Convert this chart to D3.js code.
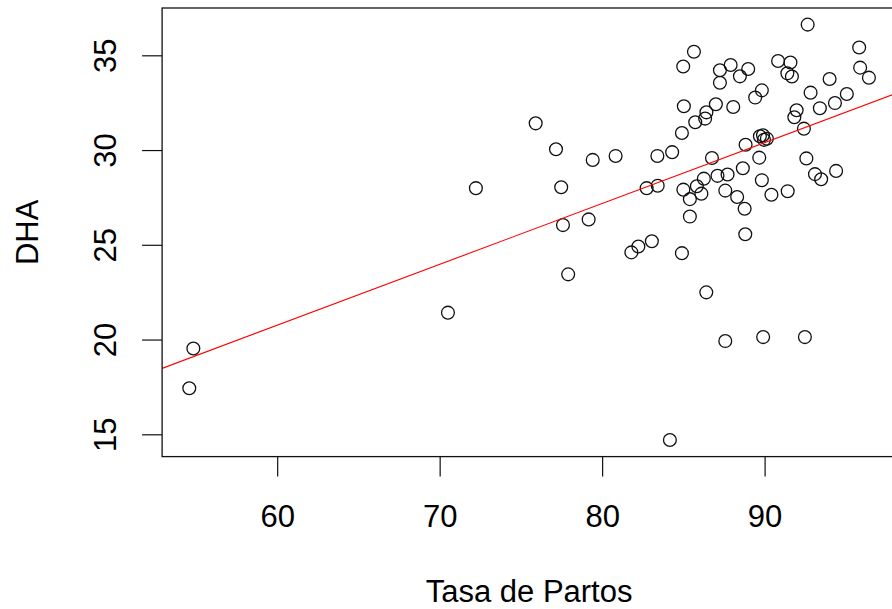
<!DOCTYPE html>
<html>
<head>
<meta charset="utf-8">
<script src="https://cdn.jsdelivr.net/npm/d3@7"></script>
<style>
  html, body { margin: 0; padding: 0; background: #fff; }
  svg { display: block; }
  text { font-family: "Liberation Sans", Arial, sans-serif; fill: #000; }
</style>
</head>
<body>
<script>
// Birth rate (x) against DHA (y), one value per observation
const tasaPartos = [
  54.59, 54.84, 70.51, 72.23, 75.91, 77.16, 77.48, 77.59, 77.91, 79.17,
  79.42, 80.83, 81.80, 82.23, 83.06, 82.74, 83.42, 83.40, 84.31, 84.17,
  84.91, 85.03, 84.91, 84.99, 85.65, 85.00, 85.40, 85.83, 86.11, 86.26,
  85.40, 85.73, 86.42, 86.34, 87.00, 86.76, 87.10, 87.72, 87.58, 88.31,
  88.77, 88.81, 88.66, 88.83, 89.67, 89.71, 89.90, 89.96, 90.14, 89.83,
  90.42, 91.42, 92.57, 93.10, 93.48, 94.40, 87.25, 87.25, 87.91, 88.48,
  88.99, 90.83, 91.59, 91.40, 91.68, 92.65, 95.82, 95.88, 96.42, 94.00,
  92.83, 89.83, 89.42, 95.06, 94.33, 93.40, 91.97, 91.83, 92.42, 88.07,
  86.41, 87.58, 89.91, 92.48
];
const dha = [
  17.43, 19.53, 21.42, 27.99, 31.41, 30.04, 28.04, 26.04, 23.44, 26.34,
  29.48, 29.69, 24.60, 24.91, 25.19, 27.99, 28.12, 29.69, 29.89, 14.70,
  24.56, 32.31, 30.90, 34.41, 35.19, 27.91, 27.41, 28.09, 27.70, 28.49,
  26.49, 31.47, 31.99, 31.66, 32.42, 29.58, 28.64, 28.71, 27.86, 27.52,
  26.90, 25.56, 29.04, 30.28, 29.60, 30.73, 30.78, 30.54, 30.60, 28.41,
  27.64, 27.83, 29.56, 28.73, 28.46, 28.90, 34.21, 33.55, 34.49, 33.89,
  34.28, 34.70, 34.62, 34.05, 33.88, 36.62, 35.41, 34.35, 33.82, 33.75,
  33.03, 33.15, 32.77, 32.96, 32.48, 32.21, 32.10, 31.73, 31.13, 32.27,
  22.49, 19.92, 20.13, 20.13
];
const xTicks = [60, 70, 80, 90];
const yTicks = [15, 20, 25, 30, 35];
// fitted regression line: DHA = intercept + slope * tasa
const intercept = 1.477;
const slope = 0.3213;

const W = 892, H = 609;
const plot = { left: 162.1, top: 8, right: 896.1, bottom: 456.6 };

// axis limits padded by 4% on each side of the data range
function padded(vals) {
  const [lo, hi] = d3.extent(vals);
  const p = (hi - lo) * 0.04;
  return [lo - p, hi + p];
}

const x = d3.scaleLinear().domain(padded(tasaPartos)).range([plot.left, plot.right]);
const y = d3.scaleLinear().domain(padded(dha)).range([plot.bottom, plot.top]);

const svg = d3.select("body").append("svg").attr("width", W).attr("height", H);

svg.append("defs").append("clipPath").attr("id", "plotArea")
  .append("rect")
  .attr("x", plot.left).attr("y", plot.top)
  .attr("width", plot.right - plot.left).attr("height", plot.bottom - plot.top);

// points
svg.append("g")
  .selectAll("circle")
  .data(d3.zip(tasaPartos, dha))
  .join("circle")
  .attr("cx", d => x(d[0]))
  .attr("cy", d => y(d[1]))
  .attr("r", 6.4)
  .attr("fill", "none")
  .attr("stroke", "#111")
  .attr("stroke-width", 1.3);

// regression line across the whole plotting region
const [x0, x1] = x.domain();
svg.append("line")
  .attr("clip-path", "url(#plotArea)")
  .attr("x1", x(x0)).attr("y1", y(intercept + slope * x0))
  .attr("x2", x(x1)).attr("y2", y(intercept + slope * x1))
  .attr("stroke", "#ff0000")
  .attr("stroke-width", 1.1);

// box around the plot
svg.append("rect")
  .attr("x", plot.left).attr("y", plot.top)
  .attr("width", plot.right - plot.left).attr("height", plot.bottom - plot.top)
  .attr("fill", "none")
  .attr("stroke", "#111")
  .attr("stroke-width", 1.3);

// x axis
const gx = svg.append("g")
  .attr("transform", `translate(0,${plot.bottom})`)
  .call(d3.axisBottom(x).tickValues(xTicks).tickSize(20).tickFormat(d3.format("d")));
gx.select(".domain").remove();
gx.selectAll(".tick line").attr("stroke", "#111").attr("stroke-width", 1.2);
gx.selectAll(".tick text")
  .attr("y", 70).attr("dy", 0)
  .attr("font-size", 31)
  .attr("font-family", "'Liberation Sans', Arial, sans-serif")
  .attr("fill", "#000");

// y axis, labels turned parallel to the axis
const gy = svg.append("g")
  .attr("transform", `translate(${plot.left},0)`)
  .call(d3.axisLeft(y).tickValues(yTicks).tickSize(20).tickFormat(d3.format("d")));
gy.select(".domain").remove();
gy.selectAll(".tick line").attr("stroke", "#111").attr("stroke-width", 1.2);
gy.selectAll(".tick text")
  .attr("transform", "rotate(-90)")
  .attr("x", 0).attr("y", -46.5).attr("dy", 0)
  .attr("text-anchor", "middle")
  .attr("font-size", 31)
  .attr("font-family", "'Liberation Sans', Arial, sans-serif")
  .attr("fill", "#000");

// axis titles
svg.append("text")
  .attr("x", (plot.left + plot.right) / 2)
  .attr("y", 602)
  .attr("text-anchor", "middle")
  .attr("font-size", 31)
  .text("Tasa de Partos");

svg.append("text")
  .attr("transform", `translate(38,${(plot.top + plot.bottom) / 2}) rotate(-90)`)
  .attr("text-anchor", "middle")
  .attr("font-size", 31)
  .text("DHA");
</script>
</body>
</html>
